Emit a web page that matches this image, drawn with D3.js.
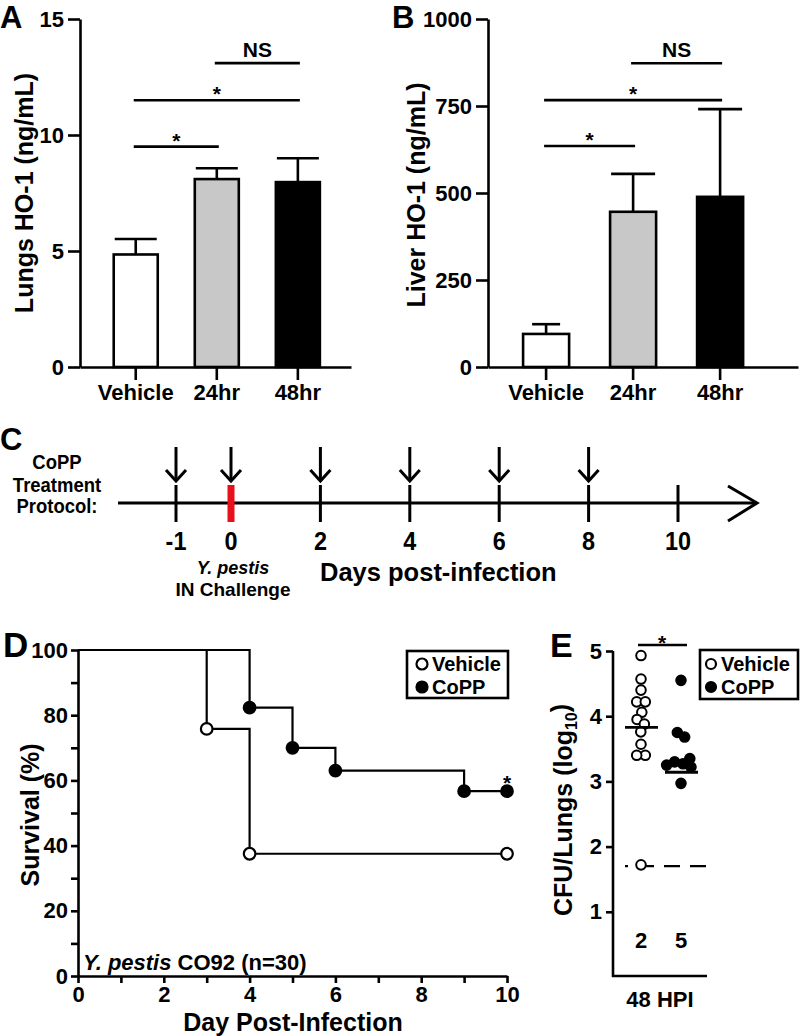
<!DOCTYPE html>
<html>
<head>
<meta charset="utf-8">
<script src="https://cdn.jsdelivr.net/npm/d3@7"></script>
<style>
  html, body { margin: 0; padding: 0; background: #fff; }
  svg { display: block; }
  text { font-family: "Liberation Sans", Arial, sans-serif; font-weight: bold; fill: #000; }
</style>
</head>
<body>
<svg id="chart" width="800" height="1036"></svg>
<script>
// ---------------- DATA ----------------
const hoCategories = ["Vehicle", "24hr", "48hr"];
const hoFills = ["#ffffff", "#c8c8c8", "#000000"];
const lungsMean = [4.85, 8.1, 7.97];
const lungsSem = [0.67, 0.47, 1.03];
const lungsTicks = [0, 5, 10, 15];
const lungsSig = [
  { from: "24hr", to: "48hr", y: 13.1, label: "NS" },
  { from: "Vehicle", to: "48hr", y: 11.5, label: "*" },
  { from: "Vehicle", to: "24hr", y: 9.5, label: "*" }
];
const liverMean = [95, 446, 489];
const liverSem = [28, 109, 252];
const liverTicks = [0, 250, 500, 750, 1000];
const liverSig = [
  { from: "24hr", to: "48hr", y: 873, label: "NS" },
  { from: "Vehicle", to: "48hr", y: 767, label: "*" },
  { from: "Vehicle", to: "24hr", y: 635, label: "*" }
];

const protocolDays = [-1, 0, 2, 4, 6, 8, 10];
const treatmentDays = [-1, 0, 2, 4, 6, 8];
const challengeDay = 0;

const survDaysVehicle = [0, 3, 4, 10];
const survVehicle = [100, 75.8, 37.5, 37.5];
const survDaysCoPP = [0, 4, 5, 6, 9, 10];
const survCoPP = [100, 82.3, 70, 63, 56.7, 56.7];

const cfuVehicle = [4.93, 4.57, 4.40, 4.22, 4.22, 4.06, 3.95, 3.88, 3.76, 3.57, 3.40, 3.40, 1.72];
const cfuCoPP = [4.55, 3.75, 3.68, 3.35, 3.30, 3.27, 3.25, 3.22, 2.97];
const cfuMedian = [3.83, 3.14];
const cfuLOD = 1.70;
const cfuCounts = ["2", "5"];
const cfuTicks = [1, 2, 3, 4, 5];

// ---------------- DRAW ----------------
const svg = d3.select("#chart");
const AX = 2.6;
const fmt = d => String(d);

function styleAxis(g, fs) {
  g.selectAll("path.domain").attr("stroke", "#000").attr("stroke-width", AX);
  g.selectAll(".tick line").attr("stroke", "#000").attr("stroke-width", AX);
  g.selectAll(".tick text").style("font-family", '"Liberation Sans", Arial, sans-serif')
    .style("font-weight", "bold").style("font-size", fs + "px").attr("fill", "#000");
}

function barPanel(opt) {
  const g = svg.append("g");
  const y = d3.scaleLinear().domain(opt.domain).range([367, 19]);
  const x = d3.scaleBand().domain(hoCategories).range(opt.xr)
    .paddingInner(opt.pi).paddingOuter(opt.po).align(opt.align);
  const bw = x.bandwidth();
  const cx = c => x(c) + bw / 2;

  hoCategories.forEach((c, i) => {
    g.append("line").attr("x1", cx(c)).attr("x2", cx(c))
      .attr("y1", y(opt.mean[i])).attr("y2", y(opt.mean[i] + opt.sem[i]))
      .attr("stroke", "#000").attr("stroke-width", AX);
    g.append("line").attr("x1", cx(c) - opt.cap[i] / 2).attr("x2", cx(c) + opt.cap[i] / 2)
      .attr("y1", y(opt.mean[i] + opt.sem[i])).attr("y2", y(opt.mean[i] + opt.sem[i]))
      .attr("stroke", "#000").attr("stroke-width", AX);
  });
  g.selectAll("rect.bar").data(hoCategories).join("rect")
    .attr("x", c => x(c)).attr("width", bw)
    .attr("y", (c, i) => y(opt.mean[i])).attr("height", (c, i) => y(0) - y(opt.mean[i]))
    .attr("fill", (c, i) => hoFills[i]).attr("stroke", "#000").attr("stroke-width", AX);

  const ya = g.append("g").attr("transform", `translate(${opt.xr[0]},0)`)
    .call(d3.axisLeft(y).tickValues(opt.ticks).tickFormat(fmt).tickSize(12).tickSizeOuter(0).tickPadding(4));
  styleAxis(ya, 22);
  const xa = g.append("g").attr("transform", `translate(0,367)`)
    .call(d3.axisBottom(x).tickSize(13).tickSizeOuter(0).tickPadding(4));
  styleAxis(xa, 22);

  opt.sig.forEach(s => {
    const x1 = cx(s.from) - 2, x2 = cx(s.to) + 2;
    g.append("line").attr("x1", x1).attr("x2", x2).attr("y1", y(s.y)).attr("y2", y(s.y))
      .attr("stroke", "#000").attr("stroke-width", AX);
    g.append("text").attr("x", (x1 + x2) / 2).attr("y", s.label === "NS" ? y(s.y) - 6 : y(s.y) + 1)
      .attr("text-anchor", "middle").style("font-size", "21px").text(s.label);
  });

  g.append("text").attr("transform", `translate(${opt.titleX},${opt.titleY}) rotate(-90)`)
    .attr("text-anchor", "middle").attr("dy", "0.36em").style("font-size", "25px").text(opt.title);
  g.append("text").attr("x", opt.letterX).attr("y", 28).style("font-size", "31px").text(opt.letter);
}

barPanel({ domain: [0, 15], ticks: lungsTicks, mean: lungsMean, sem: lungsSem, sig: lungsSig,
  xr: [80, 351], pi: 0.457, po: 0.40, align: 0.52, cap: [42, 42, 42],
  title: "Lungs HO-1 (ng/mL)", titleX: 24, titleY: 193, letter: "A", letterX: 0 });
barPanel({ domain: [0, 1000], ticks: liverTicks, mean: liverMean, sem: liverSem, sig: liverSig,
  xr: [488, 798], pi: 0.471, po: 0.517, align: 0.39, cap: [28, 44, 44],
  title: "Liver HO-1 (ng/mL)", titleX: 416, titleY: 195, letter: "B", letterX: 392 });

// ---------------- C: protocol timeline ----------------
(function () {
  const g = svg.append("g");
  const t = d3.scaleLinear().domain([-1, 0, 10]).range([176, 231, 678]);
  const yL = 503;
  const narrow = (x, y, s, fs, k) => g.append("text")
    .attr("transform", `translate(${x},${y}) scale(${k},1)`)
    .attr("text-anchor", "middle").style("font-size", fs + "px").text(s);

  g.append("line").attr("x1", 118).attr("x2", 757).attr("y1", yL).attr("y2", yL)
    .attr("stroke", "#000").attr("stroke-width", 3);
  g.append("path").attr("d", `M728,486 L757,${yL} L728,521`).attr("fill", "none")
    .attr("stroke", "#000").attr("stroke-width", 3);
  g.selectAll("line.tk").data(protocolDays).join("line")
    .attr("x1", d => t(d)).attr("x2", d => t(d)).attr("y1", 485).attr("y2", 522)
    .attr("stroke", d => d === challengeDay ? "#e8101a" : "#000")
    .attr("stroke-width", d => d === challengeDay ? 7 : 3);
  protocolDays.forEach(d => narrow(t(d), 550, String(d), 26, 0.9));
  treatmentDays.forEach(d => {
    g.append("line").attr("x1", t(d)).attr("x2", t(d)).attr("y1", 447).attr("y2", 480)
      .attr("stroke", "#000").attr("stroke-width", 3);
    g.append("path").attr("d", `M${t(d) - 10},470 L${t(d)},481 L${t(d) + 10},470`)
      .attr("fill", "none").attr("stroke", "#000").attr("stroke-width", 3);
  });
  ["CoPP", "Treatment", "Protocol:"].forEach((s, i) => narrow(57, [469, 492, 513][i], s, 21, 0.88));
  g.append("text").attr("x", 233).attr("y", 574).attr("text-anchor", "middle")
    .style("font-size", "18px").style("font-style", "italic").text("Y. pestis");
  g.append("text").attr("x", 233).attr("y", 596).attr("text-anchor", "middle")
    .style("font-size", "19px").text("IN Challenge");
  g.append("text").attr("x", 320).attr("y", 581).style("font-size", "25.5px").text("Days post-infection");
  g.append("text").attr("x", 0).attr("y", 450).style("font-size", "31px").text("C");
})();

// ---------------- D: survival ----------------
(function () {
  const g = svg.append("g");
  const x = d3.scaleLinear().domain([0, 10]).range([78, 507]);
  const y = d3.scaleLinear().domain([0, 100]).range([976, 650]);
  const line = d3.line().x(d => x(d[0])).y(d => y(d[1])).curve(d3.curveStepAfter);
  const series = [
    { days: survDaysVehicle, vals: survVehicle, fill: "#fff" },
    { days: survDaysCoPP, vals: survCoPP, fill: "#000" }
  ];
  series.forEach(s => {
    const pts = s.days.map((d, i) => [d, s.vals[i]]);
    g.append("path").attr("d", line(pts)).attr("fill", "none").attr("stroke", "#000").attr("stroke-width", 2.2);
  });
  series.forEach(s => {
    const pts = s.days.map((d, i) => [d, s.vals[i]]).slice(1);
    g.selectAll(null).data(pts).join("circle").attr("cx", d => x(d[0])).attr("cy", d => y(d[1]))
      .attr("r", 5.8).attr("fill", s.fill).attr("stroke", "#000").attr("stroke-width", 2.2);
  });
  const last = survDaysCoPP.length - 1;
  g.append("text").attr("x", x(survDaysCoPP[last])).attr("y", y(survCoPP[last]) - 1)
    .attr("text-anchor", "middle").style("font-size", "21px").text("*");

  const ya = g.append("g").attr("transform", `translate(78,0)`)
    .call(d3.axisLeft(y).tickValues(d3.range(0, 101, 10)).tickSize(7).tickSizeOuter(0).tickPadding(3)
      .tickFormat(d => d % 20 === 0 ? String(d) : ""));
  styleAxis(ya, 22);
  const xa = g.append("g").attr("transform", `translate(0,976)`)
    .call(d3.axisBottom(x).tickValues(d3.range(0, 11, 1)).tickSize(7).tickSizeOuter(0).tickPadding(3)
      .tickFormat(d => d % 2 === 0 ? String(d) : ""));
  styleAxis(xa, 22);

  const ann = g.append("text").attr("x", 83).attr("y", 970).style("font-size", "22px");
  ann.append("tspan").style("font-style", "italic").text("Y. pestis");
  ann.append("tspan").text(" CO92 (n=30)");

  g.append("text").attr("x", 293).attr("y", 1031).attr("text-anchor", "middle").style("font-size", "25px")
    .text("Day Post-Infection");
  g.append("text").attr("transform", "translate(30,815) rotate(-90)").attr("text-anchor", "middle")
    .attr("dy", "0.36em").style("font-size", "25px").text("Survival (%)");
  g.append("text").attr("x", 3).attr("y", 657).style("font-size", "35px").text("D");

  g.append("rect").attr("x", 407).attr("y", 651).attr("width", 101).attr("height", 47)
    .attr("fill", "#fff").attr("stroke", "#000").attr("stroke-width", 2.6);
  [["Vehicle", "#fff", 664], ["CoPP", "#000", 687]].forEach(([lab, f, yy]) => {
    g.append("circle").attr("cx", 422).attr("cy", yy).attr("r", 5.5).attr("fill", f)
      .attr("stroke", "#000").attr("stroke-width", 2.2);
    g.append("text").attr("x", 432).attr("y", yy + 7).style("font-size", "20px").text(lab);
  });
})();

// ---------------- E: CFU ----------------
(function () {
  const g = svg.append("g");
  const y = d3.scaleLinear().domain([0, 5]).range([977, 651]);
  const x = d3.scalePoint().domain(["Vehicle", "CoPP"]).range([641, 681]);
  const groups = [
    { key: "Vehicle", vals: cfuVehicle, fill: "#fff" },
    { key: "CoPP", vals: cfuCoPP, fill: "#000" }
  ];

  g.append("line").attr("x1", 625).attr("x2", 707).attr("y1", y(cfuLOD)).attr("y2", y(cfuLOD))
    .attr("stroke", "#000").attr("stroke-width", 2.4).attr("stroke-dasharray", "16,10")
    .attr("stroke-dashoffset", 13);

  groups.forEach((gr, gi) => {
    const nodes = gr.vals.map(v => ({ x: x(gr.key), y: y(v), fy: y(v) }));
    const sim = d3.forceSimulation(nodes)
      .force("x", d3.forceX(x(gr.key)).strength(0.15))
      .force("collide", d3.forceCollide(4.3))
      .stop();
    for (let i = 0; i < 300; i++) sim.tick();
    g.selectAll(null).data(nodes).join("circle").attr("cx", d => d.x).attr("cy", d => d.fy)
      .attr("r", 4.8).attr("fill", gr.fill).attr("stroke", "#000").attr("stroke-width", 2);
    g.append("line").attr("x1", x(gr.key) - 16).attr("x2", x(gr.key) + 17)
      .attr("y1", y(cfuMedian[gi])).attr("y2", y(cfuMedian[gi])).attr("stroke", "#000").attr("stroke-width", 2.8);
    g.append("text").attr("x", x(gr.key)).attr("y", 948).attr("text-anchor", "middle")
      .style("font-size", "22px").text(cfuCounts[gi]);
  });

  g.append("line").attr("x1", 638).attr("x2", 687).attr("y1", 645).attr("y2", 645)
    .attr("stroke", "#000").attr("stroke-width", 2.6);
  g.append("text").attr("x", 662).attr("y", 650).attr("text-anchor", "middle").style("font-size", "21px").text("*");

  const ya = g.append("g").attr("transform", `translate(613,0)`)
    .call(d3.axisLeft(y).tickValues(cfuTicks).tickFormat(fmt).tickSize(7).tickSizeOuter(0).tickPadding(4));
  styleAxis(ya, 22);
  ya.select("path.domain").attr("d", `M0,${y(5)}V${y(0)}`);
  g.append("line").attr("x1", 612).attr("x2", 707).attr("y1", 976).attr("y2", 976)
    .attr("stroke", "#000").attr("stroke-width", AX);
  g.append("text").attr("x", 660).attr("y", 1007).attr("text-anchor", "middle").style("font-size", "22px").text("48 HPI");

  const tt = g.append("text").attr("transform", "translate(563,810) rotate(-90)").attr("text-anchor", "middle")
    .attr("dy", "0.36em").style("font-size", "25px");
  tt.append("tspan").text("CFU/Lungs (log");
  tt.append("tspan").attr("dy", "0.3em").style("font-size", "16px").text("10");
  tt.append("tspan").attr("dy", "-0.3em").text(")");

  g.append("text").attr("x", 550).attr("y", 657).style("font-size", "34px").text("E");

  g.append("rect").attr("x", 700).attr("y", 650).attr("width", 98).attr("height", 49)
    .attr("fill", "#fff").attr("stroke", "#000").attr("stroke-width", 2.6);
  [["Vehicle", "#fff", 664], ["CoPP", "#000", 687]].forEach(([lab, f, yy]) => {
    g.append("circle").attr("cx", 711).attr("cy", yy).attr("r", 5).attr("fill", f)
      .attr("stroke", "#000").attr("stroke-width", 2.2);
    g.append("text").attr("x", 721).attr("y", yy + 7).style("font-size", "20px").text(lab);
  });
})();
</script>
</body>
</html>
